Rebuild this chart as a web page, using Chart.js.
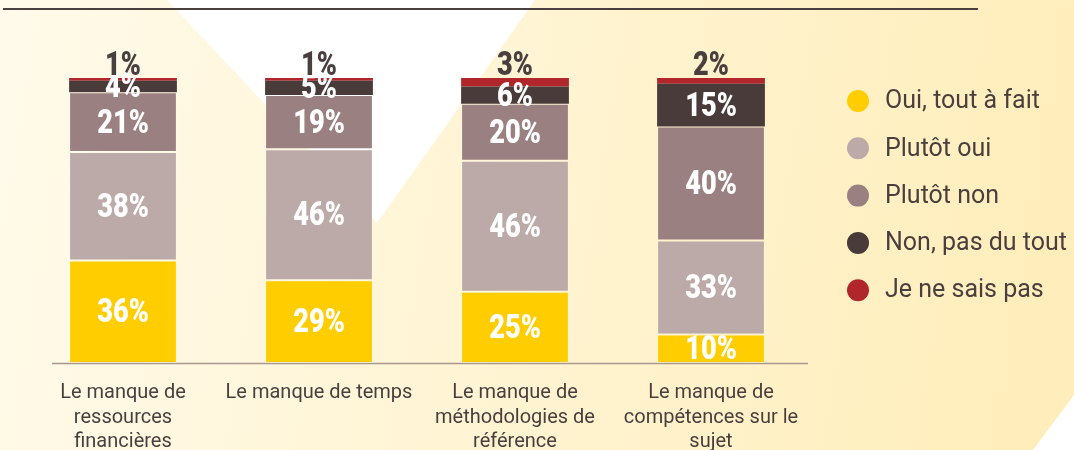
<!DOCTYPE html>
<html lang="fr">
<head>
<meta charset="utf-8">
<script src="https://cdn.jsdelivr.net/npm/chart.js@4"></script>
<style>
  body { margin: 0; background: #fff; }
  #wrap { width: 1074px; height: 450px; position: relative; }
</style>
</head>
<body>
<div id="wrap"><canvas id="barriersChart"></canvas></div>
<script>
// Categories (x axis, one array per multi-line label)
const categories = [
    ['Le manque de', 'ressources', 'financières'],
    ['Le manque de temps'],
    ['Le manque de', 'méthodologies de', 'référence'],
    ['Le manque de', 'compétences sur le', 'sujet']
];

// Series names
const seriesNames = ['Oui, tout à fait', 'Plutôt oui', 'Plutôt non', 'Non, pas du tout', 'Je ne sais pas'];

// Series values (%)
const ouiToutAFait = [36, 29, 25, 10];
const plutotOui = [38, 46, 46, 33];
const plutotNon = [21, 19, 20, 40];
const nonPasDuTout = [4, 5, 6, 15];
const jeNeSaisPas = [1, 1, 3, 2];

const seriesColors = ['#ffcd00', '#bcaaa9', '#9a8080', '#4a3b3b', '#b0262b'];
const darkText = '#4a3f3f';
const labelFont = '900 34px Roboto, "DejaVu Sans", sans-serif';

// background: cream gradient with white triangles, rule at top
const backgroundPlugin = {
    id: 'background',
    beforeDraw(chart) {
        const ctx = chart.ctx;
        const w = chart.width, h = chart.height;
        ctx.save();
        const grad = ctx.createLinearGradient(0, 0, w, h * 0.4);
        grad.addColorStop(0, '#fffaea');
        grad.addColorStop(1, '#ffeebb');
        ctx.fillStyle = grad;
        ctx.fillRect(0, 0, w, h);
        ctx.fillStyle = '#ffffff';
        ctx.beginPath();
        ctx.moveTo(167, 0);
        ctx.lineTo(535, 0);
        ctx.lineTo(377, 223);
        ctx.closePath();
        ctx.fill();
        ctx.beginPath();
        ctx.moveTo(w, 395);
        ctx.lineTo(1033, h);
        ctx.lineTo(w, h);
        ctx.closePath();
        ctx.fill();
        ctx.strokeStyle = '#4a3f3f';
        ctx.lineWidth = 2;
        ctx.beginPath();
        ctx.moveTo(3, 9);
        ctx.lineTo(978, 9);
        ctx.stroke();
        ctx.restore();
    },
    beforeDatasetsDraw(chart) {
        const ctx = chart.ctx;
        const y0 = chart.scales.y.getPixelForValue(0);
        ctx.save();
        ctx.strokeStyle = '#a8978f';
        ctx.lineWidth = 1.5;
        ctx.beginPath();
        ctx.moveTo(52, y0 + 0.5);
        ctx.lineTo(chart.chartArea.right - 1, y0 + 0.5);
        ctx.stroke();
        ctx.restore();
    }
};

// percent labels on each segment, last series above the bar
const valueLabelsPlugin = {
    id: 'valueLabels',
    afterDatasetsDraw(chart) {
        const ctx = chart.ctx;
        const last = chart.data.datasets.length - 1;
        ctx.save();
        ctx.font = labelFont;
        ctx.textAlign = 'center';
        ctx.textBaseline = 'middle';
        chart.data.datasets.forEach(function(ds, i) {
            const meta = chart.getDatasetMeta(i);
            meta.data.forEach(function(bar, j) {
                const text = ds.data[j] + '%';
                let y;
                if (i === last) {
                    ctx.fillStyle = darkText;
                    y = bar.y - 12;
                } else {
                    ctx.fillStyle = '#ffffff';
                    y = (bar.y + bar.base) / 2 + 2;
                }
                // condensed look: squeeze glyphs horizontally
                ctx.save();
                ctx.translate(bar.x, y);
                ctx.scale(0.8, 1);
                ctx.fillText(text, 0, 0);
                ctx.restore();
            });
        });
        ctx.restore();
    }
};

// legend drawn on the right with round markers
const sideLegendPlugin = {
    id: 'sideLegend',
    afterDraw(chart) {
        const ctx = chart.ctx;
        ctx.save();
        ctx.font = '25px Roboto, "Open Sans", sans-serif';
        ctx.textBaseline = 'middle';
        chart.data.datasets.forEach(function(ds, i) {
            const y = 101 + i * 47.3;
            ctx.fillStyle = ds.backgroundColor;
            ctx.beginPath();
            ctx.arc(858, y, 11, 0, Math.PI * 2);
            ctx.fill();
            ctx.fillStyle = darkText;
            ctx.fillText(ds.label, 885, y + 1);
        });
        ctx.restore();
    }
};

const seriesValues = [ouiToutAFait, plutotOui, plutotNon, nonPasDuTout, jeNeSaisPas];

const ctx = document.getElementById('barriersChart').getContext('2d');
new Chart(ctx, {
    type: 'bar',
    data: {
        labels: categories,
        datasets: seriesNames.map(function(name, i) {
            return {
                label: name,
                data: seriesValues[i],
                backgroundColor: seriesColors[i],
                borderColor: 'rgba(255,255,255,0.22)',
                borderWidth: i < 3 ? 1 : 0,
                borderSkipped: false,
                barPercentage: 0.55,
                categoryPercentage: 1
            };
        })
    },
    options: {
        responsive: true,
        maintainAspectRatio: false,
        animation: false,
        layout: {
            padding: { left: 25, right: 265, top: 78, bottom: 0 }
        },
        plugins: {
            legend: { display: false },
            tooltip: { enabled: false }
        },
        scales: {
            x: {
                stacked: true,
                grid: { display: false, drawTicks: false },
                border: { display: false },
                afterFit(scale) {
                    scale.height = 87;
                },
                ticks: {
                    color: darkText,
                    padding: 18,
                    maxRotation: 0,
                    autoSkip: false,
                    font: { family: 'Roboto, "Open Sans", sans-serif', size: 20, lineHeight: 1.22 }
                }
            },
            y: {
                stacked: true,
                display: false,
                min: 0,
                max: 100
            }
        }
    },
    plugins: [backgroundPlugin, valueLabelsPlugin, sideLegendPlugin]
});
</script>
</body>
</html>
